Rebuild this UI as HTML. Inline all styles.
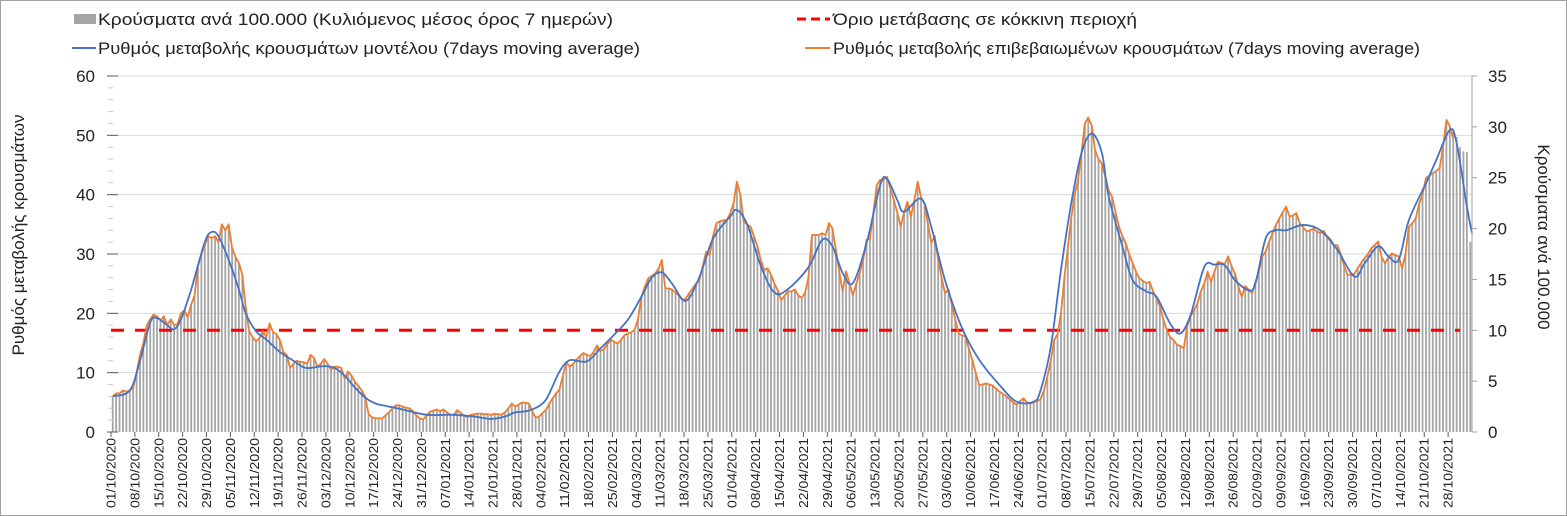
<!DOCTYPE html>
<html><head><meta charset="utf-8">
<style>
html,body{margin:0;padding:0;background:#fff;}
body{width:1567px;height:516px;overflow:hidden;font-family:"Liberation Sans","DejaVu Sans",sans-serif;}
#frame{position:absolute;left:0;top:0;width:1565px;height:514px;border:1px solid #a0a0a0;}
</style></head>
<body>
<div id="frame"></div>
<svg id="chart" width="1567" height="516" style="position:absolute;left:0;top:0" xmlns="http://www.w3.org/2000/svg">
<g id="grid"></g>
<g id="bars"></g>
<g id="lines"></g>
<g id="axes"></g>
<g font-size="17" fill="#222">
  <rect x="74" y="14" width="22" height="10" fill="#a5a5a5"/>
  <text x="98" y="25" textLength="515" lengthAdjust="spacingAndGlyphs">Κρούσματα ανά 100.000 (Κυλιόμενος μέσος όρος 7 ημερών)</text>
  <line x1="72" y1="48" x2="96" y2="48" stroke="#4472c4" stroke-width="2"/>
  <text x="98" y="54" textLength="542" lengthAdjust="spacingAndGlyphs">Ρυθμός μεταβολής κρουσμάτων μοντέλου (7days moving average)</text>
  <line x1="797" y1="19" x2="830" y2="19" stroke="#ff0000" stroke-width="3" stroke-dasharray="9,5"/>
  <text x="833" y="25" textLength="304" lengthAdjust="spacingAndGlyphs">Όριο μετάβασης σε κόκκινη περιοχή</text>
  <line x1="805" y1="48" x2="830" y2="48" stroke="#ed7d31" stroke-width="2"/>
  <text x="833" y="54" textLength="587" lengthAdjust="spacingAndGlyphs">Ρυθμός μεταβολής επιβεβαιωμένων κρουσμάτων (7days moving average)</text>
</g>
<text transform="translate(24,235) rotate(-90)" text-anchor="middle" font-size="17" fill="#222">Ρυθμός μεταβολής κρουσμάτων</text>
<text transform="translate(1538,237) rotate(90)" text-anchor="middle" font-size="17" fill="#222">Κρούσματα ανά 100.000</text>
</svg>
<script>
// Daily cases per 100,000 (right axis), days from 01/10/2020
const cases = [3.5,3.8,3.8,4.1,4.0,4.1,4.4,5.8,7.6,8.8,
10.5,11.1,11.5,11.4,11.0,11.4,10.5,11.1,10.5,10.6,
11.7,12.0,11.3,12.5,13.4,16.3,17.5,18.4,19.3,19.1,
19.3,18.7,20.4,19.8,20.4,18.1,17.2,16.6,15.5,12.3,
9.9,9.3,8.9,9.2,9.9,9.3,10.7,9.8,9.6,9.0,
7.9,7.6,6.3,6.7,7.0,6.9,6.9,6.7,7.6,7.3,
6.4,6.7,7.2,6.7,6.1,6.4,6.4,6.3,5.3,5.9,
5.5,5.0,4.5,4.1,3.5,1.7,1.5,1.3,1.3,1.3,
1.6,1.9,2.3,2.6,2.6,2.5,2.4,2.3,2.0,1.6,
1.3,1.2,1.6,2.0,2.1,2.2,2.0,2.2,1.9,1.7,
1.7,2.2,1.9,1.6,1.5,1.7,1.75,1.8,1.8,1.75,
1.75,1.7,1.8,1.75,1.7,1.9,2.3,2.8,2.5,2.7,
2.9,2.9,2.8,2.0,1.4,1.5,1.9,2.2,2.8,3.3,
3.8,4.2,5.5,6.9,6.4,6.7,7.1,7.5,7.8,7.6,
7.5,7.9,8.5,7.9,8.2,8.6,9.1,8.9,8.7,9.0,
9.5,9.7,9.8,10.0,11.1,13.3,14.3,15.1,15.3,15.6,
16.0,16.9,14.1,14.1,14.0,13.7,13.4,12.9,13.1,13.6,
14.1,14.6,14.9,16.3,17.7,17.4,19.2,20.5,20.7,20.8,
20.8,21.5,22.5,24.6,23.3,20.7,20.4,20.2,19.2,18.3,
16.9,15.9,16.1,15.5,14.6,13.9,12.9,13.4,13.8,13.8,
14.0,13.4,13.2,13.7,15.3,19.4,19.4,19.4,19.5,19.4,
20.5,20.0,18.0,15.8,13.8,15.8,14.6,13.5,14.6,15.6,
16.9,18.9,19.0,21.6,24.3,24.8,24.8,25.1,23.9,22.8,
21.6,20.2,21.6,22.6,21.2,22.8,24.6,23.0,22.5,20.4,
18.6,19.3,16.9,15.2,13.7,14.0,12.5,11.1,9.7,9.5,
9.4,8.2,7.1,5.8,4.6,4.7,4.8,4.7,4.6,4.3,
4.0,3.7,3.5,3.2,2.9,2.7,3.0,3.3,2.9,2.8,
2.9,3.0,3.2,4.1,5.4,7.0,9.0,9.6,11.7,15.2,
18.1,21.0,23.3,24.8,27.4,30.3,30.9,30.2,27.7,26.8,
26.4,25.1,23.7,23.1,21.6,20.2,19.2,18.6,17.5,16.6,
15.8,15.1,14.9,14.6,14.8,13.8,13.1,12.4,11.1,10.0,
9.3,9.0,8.6,8.5,8.2,10.4,11.4,12.0,12.7,13.8,
14.6,15.8,14.8,15.8,16.7,16.6,16.5,17.3,16.3,15.6,
14.3,13.3,14.3,14.0,13.6,14.8,15.8,17.3,17.7,18.7,
19.5,20.4,21.0,21.6,22.2,21.2,21.3,21.5,20.5,20.1,
19.7,19.8,20.0,19.7,19.5,19.8,19.2,19.0,18.4,18.4,
17.5,16.3,15.5,15.5,15.6,16.1,16.6,17.1,17.5,18.1,
18.4,18.7,17.2,16.6,17.2,17.6,17.4,17.3,16.1,17.5,
20.2,20.5,21.0,22.5,23.3,25.0,25.2,25.4,25.7,25.9,
28.0,30.7,30.0,29.5,29.0,28.0,27.6,27.5,18.7];
// Confirmed-cases change rate (left axis), daily
const confirmed = [6,6.5,6.5,7,6.8,7,7.5,10,13,15,
18,19,19.8,19.5,18.8,19.5,18,19,18,18.2,
20,20.5,19.3,21.5,23,28,30,31.5,33,32.7,
33,32,35,34,35,31,29.5,28.5,26.5,21,
17,16,15.3,15.8,17,16,18.3,16.8,16.5,15.5,
13.5,13,10.8,11.5,12,11.8,11.8,11.5,13,12.5,
11,11.5,12.3,11.5,10.5,11,11,10.8,9,10.2,
9.5,8.5,7.8,7,6,3,2.5,2.3,2.3,2.3,
2.8,3.3,4,4.5,4.5,4.3,4.1,4,3.5,2.8,
2.3,2.1,2.8,3.4,3.6,3.8,3.5,3.8,3.3,2.9,
2.9,3.7,3.2,2.8,2.5,2.9,3,3.1,3.1,3,
3,2.9,3.1,3,2.9,3.3,4,4.8,4.3,4.6,
5,4.9,4.8,3.5,2.4,2.6,3.2,3.7,4.8,5.7,
6.5,7.2,9.5,11.8,11,11.5,12.2,12.8,13.3,13,
12.8,13.5,14.6,13.6,14,14.8,15.6,15.2,14.9,15.5,
16.3,16.6,16.8,17.2,19,22.8,24.5,25.9,26.3,26.7,
27.5,29,24.2,24.2,24,23.5,23,22.2,22.5,23.4,
24.2,25,25.6,28,30.4,29.8,33,35.2,35.5,35.7,
35.7,36.8,38.5,42.2,40,35.5,35,34.6,33,31.3,
29,27.3,27.6,26.5,25,23.8,22.2,23,23.7,23.7,
24,23,22.6,23.5,26.2,33.2,33.2,33.2,33.5,33.2,
35.2,34.3,30.8,27,23.7,27.1,25,23.1,25,26.8,
29,32.4,32.6,37,41.6,42.5,42.5,43,41,39.1,
37,34.6,37,38.8,36.3,39,42.2,39.5,38.5,35,
31.9,33,29,26,23.4,24,21.5,19,16.6,16.3,
16.1,14,12.2,10,7.9,8,8.2,8,7.8,7.3,
6.8,6.4,6,5.5,5,4.6,5.2,5.7,5,4.8,
5,5.2,5.5,7,9.3,12,15.5,16.5,20,26,
31,36,40,42.5,47,52,53,51.7,47.5,46,
45.2,43,40.7,39.6,37,34.6,33,31.8,30,28.5,
27,25.9,25.5,25.1,25.3,23.7,22.5,21.2,19,17.2,
16,15.5,14.7,14.5,14.1,17.8,19.5,20.5,21.7,23.7,
25,27,25.3,27,28.7,28.5,28.3,29.6,28,26.7,
24.5,22.8,24.6,24,23.4,25.3,27,29.6,30.4,32,
33.5,34.9,36,37,38,36.3,36.5,36.9,35.2,34.5,
33.8,34,34.3,33.8,33.5,33.9,33,32.5,31.5,31.5,
30,28,26.5,26.5,26.7,27.6,28.5,29.3,30,31,
31.5,32.1,29.5,28.4,29.5,30.1,29.8,29.6,27.6,30,
34.6,35.2,36,38.5,40,42.8,43.2,43.6,44,44.4,
48,52.6,51.5,49.5];
// Model change rate (left axis), sampled days and values
const modelDays = [0,5,8,11,13,16,18,20,23,27,29,31,34,37,39,42,45,49,53,56,58,62,65,68,71,74,77,80,85,92,100,106,111,115,118,122,126,128,131,134,139,143,147,151,155,158,161,164,168,172,176,181,183,186,190,194,198,204,208,211,214,217,221,225,227,230,232,237,240,244,249,254,260,265,270,272,275,278,281,284,287,290,292,296,299,303,306,310,313,316,320,323,326,329,333,335,338,341,344,349,354,359,364,367,371,374,377,380,385,388,392,394,397,398.5];
const modelVals = [6,7,12,18.5,19.2,18,17.3,19,24,32,33.7,33,29,24,20,17,15.6,13.5,12,10.9,10.8,11.1,10.8,9.5,7.5,5.8,4.8,4.4,3.8,2.9,2.9,2.6,2.2,2.6,3.3,3.6,4.8,6.5,10.2,12.1,11.9,14.1,16.4,18.9,22.8,26,26.9,25,22.1,26.1,32.6,36.3,37.4,35,28,23.5,24.1,27.8,32.4,31.3,26.8,25.1,31.8,41.6,42.7,39.1,37.1,39.3,34.5,25.6,17.5,12.2,7.9,5.1,5.1,7,14.3,27.3,38.5,47,50.3,47,39.7,31.3,25.6,23.7,22.8,18.3,16.6,19.7,27.8,28.2,28.1,25.6,23.9,25,32.6,34,34,34.9,34,30.7,26.2,28.4,31.3,29.6,29,35.7,41.9,45.8,50.9,48.7,38,33.5];
const threshold = [10]; // right-axis units
const leftTicks = [0,10,20,30,40,50,60];
const rightTicks = [0,5,10,15,20,25,30,35];

const NS='http://www.w3.org/2000/svg';
const X0=111, X1=1472, YT=76, YB=432, N=cases.length;
const dw=(X1-X0)/N;
const xDay=d=>X0+d*dw;
const xC=i=>X0+(i+0.5)*dw;
const yL=v=>YB-(v/60)*(YB-YT);
const yR=v=>YB-(v/35)*(YB-YT);
function mk(tag,attrs,parent){const e=document.createElementNS(NS,tag);for(const k in attrs)e.setAttribute(k,attrs[k]);parent.appendChild(e);return e;}
const grid=document.getElementById('grid'),barsG=document.getElementById('bars'),linesG=document.getElementById('lines'),axes=document.getElementById('axes');

leftTicks.forEach(v=>{
  if(v>0){const g=mk('line',{x1:X0,x2:X1,y1:yL(v),y2:yL(v),stroke:'#d9d9d9','stroke-width':1},grid);
  
  }
  const t=mk('text',{x:95,y:yL(v)+6,'text-anchor':'end','font-size':17,fill:'#222'},axes);t.textContent=v;
  
  
  const tk=mk('line',{x1:107,x2:118,y1:yL(v),y2:yL(v),stroke:'#595959'},axes);
  
  
});
for(let v=2;v<60;v+=2){if(v%10===0)continue;const m=mk('line',{x1:108,x2:113,y1:yL(v),y2:yL(v),stroke:'#c8c8c8'},axes);
  
  }
rightTicks.forEach(v=>{
  const t=mk('text',{x:1488,y:yR(v)+6,'font-size':17,fill:'#222'},axes);t.textContent=v;
  
  
  const tk=mk('line',{x1:X1,x2:X1+5,y1:yR(v),y2:yR(v),stroke:'#a0a0a0'},axes);
  
  
});
const ra=mk('line',{x1:X1,x2:X1,y1:YT,y2:YB,stroke:'#a0a0a0'},axes);



cases.forEach((v,i)=>{
  const b=mk('rect',{x:xC(i)-0.9,y:yR(v),width:1.8,height:YB-yR(v),fill:'#a5a5a5'},barsG);
  
  
});

const th=mk('line',{x1:X0,x2:X1-12,y1:yR(threshold[0]),y2:yR(threshold[0]),stroke:'#ff0000','stroke-width':3,'stroke-dasharray':'13,11'},linesG);



let d='';confirmed.forEach((v,i)=>{d+=(i?'L':'M')+xC(i).toFixed(2)+','+yL(v).toFixed(2);});
const ol=mk('path',{d:d,fill:'none',stroke:'#ed7d31','stroke-width':1.8,'stroke-linejoin':'round'},linesG);



const P=modelDays.map((dd,i)=>[xC(dd),yL(modelVals[i])]);
let bd='M'+P[0][0]+','+P[0][1];
for(let i=0;i<P.length-1;i++){
  const p0=P[Math.max(0,i-1)],p1=P[i],p2=P[i+1],p3=P[Math.min(P.length-1,i+2)];
  const c1=[p1[0]+(p2[0]-p0[0])/6,p1[1]+(p2[1]-p0[1])/6];
  const c2=[p2[0]-(p3[0]-p1[0])/6,p2[1]-(p3[1]-p1[1])/6];
  bd+='C'+c1.join(',')+' '+c2.join(',')+' '+p2.join(',');
}
const bl=mk('path',{d:bd,fill:'none',stroke:'#4472c4','stroke-width':1.8},linesG);



const start=new Date(Date.UTC(2020,9,1));
for(let dd=0;dd<N;dd+=7){
  const dt=new Date(start.getTime()+dd*86400000);
  const s=String(dt.getUTCDate()).padStart(2,'0')+'/'+String(dt.getUTCMonth()+1).padStart(2,'0')+'/'+dt.getUTCFullYear();
  const x=xDay(dd);
  const tk=mk('line',{x1:x,x2:x,y1:YB,y2:YB+5,stroke:'#595959'},axes);
  
  
  const t=mk('text',{transform:'translate('+(x+4.5)+','+(YB+6)+') rotate(-90)','text-anchor':'end','font-size':12.5,fill:'#222',textLength:70,lengthAdjust:'spacingAndGlyphs'},axes);
  t.textContent=s;
  
  
}
</script>
</body></html>
